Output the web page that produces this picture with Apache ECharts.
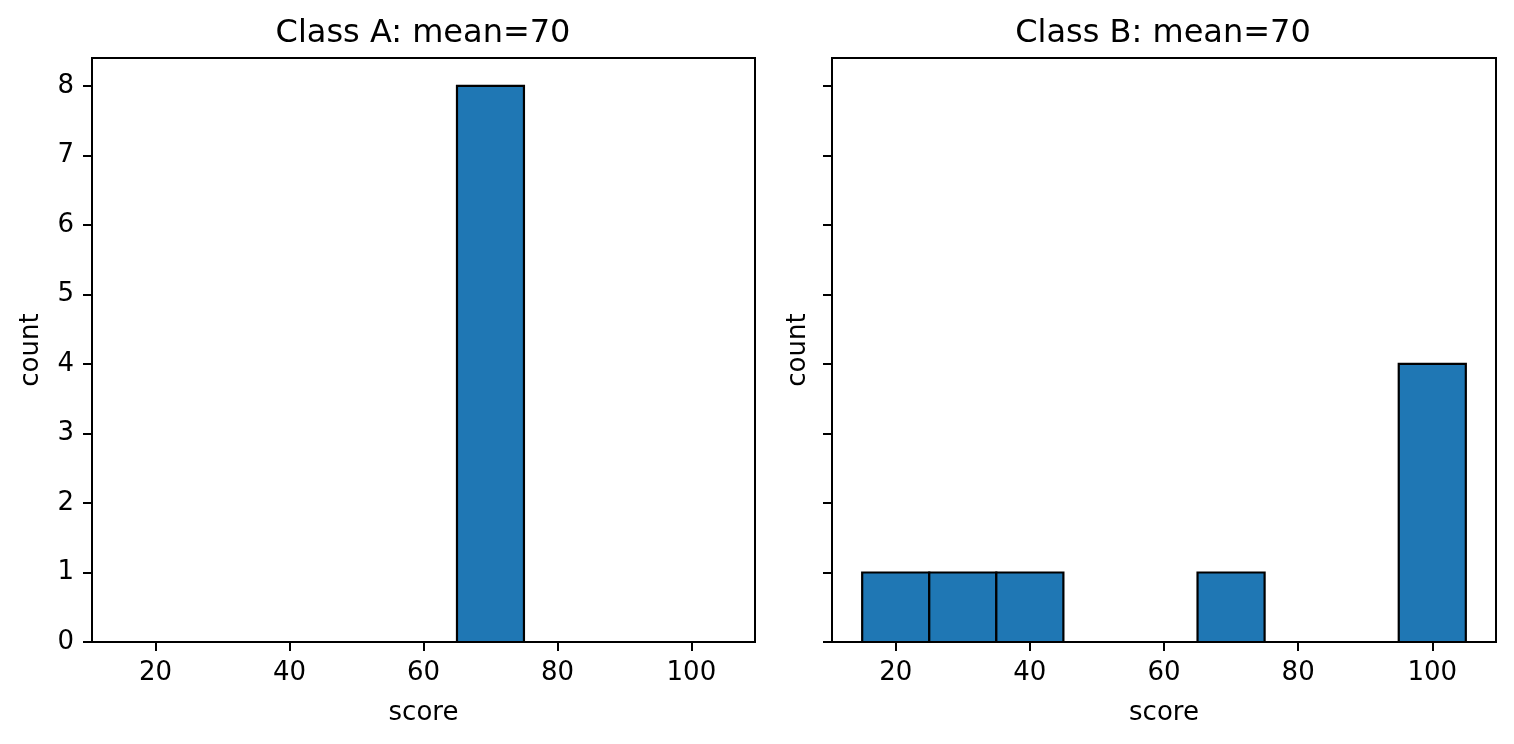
<!DOCTYPE html>
<html>
<head>
<meta charset="utf-8">
<script src="https://cdn.jsdelivr.net/npm/echarts@6/dist/echarts.min.js"></script>
<style>
  html, body { margin: 0; padding: 0; background: #fff; }
  #chart { width: 1514px; height: 744px; }
</style>
</head>
<body>
<div id="chart"></div>
<script type="text/javascript">
// histogram bins (edges) and counts per class
var binEdges = [15, 25, 35, 45, 55, 65, 75, 85, 95, 105];
var countsA = [0, 0, 0, 0, 0, 8, 0, 0, 0];
var countsB = [1, 1, 1, 0, 0, 1, 0, 0, 4];
var titles = ['Class A: mean=70', 'Class B: mean=70'];
var xTicks = [20, 40, 60, 80, 100];
var yTicks = [0, 1, 2, 3, 4, 5, 6, 7, 8];

var font = '"DejaVu Sans", sans-serif';
var barColor = '#1f77b4';

function binData(counts) {
  var out = [];
  for (var i = 0; i < counts.length; i++) {
    out.push([binEdges[i], binEdges[i + 1], counts[i]]);
  }
  return out;
}

function renderBar(params, api) {
  var h = api.value(2);
  if (!h) return null;
  var p0 = api.coord([api.value(0), h]);
  var p1 = api.coord([api.value(1), 0]);
  return {
    type: 'rect',
    shape: { x: p0[0], y: p0[1], width: p1[0] - p0[0], height: p1[1] - p0[1] },
    style: { fill: barColor, stroke: '#000', lineWidth: 2.2 }
  };
}

function xAxisFor(idx) {
  return {
    type: 'value', gridIndex: idx, min: 10.5, max: 109.5,
    name: 'score', nameLocation: 'middle', nameGap: 58,
    nameTextStyle: { fontFamily: font, fontSize: 26, color: '#000' },
    axisLine: { lineStyle: { color: '#000', width: 2 } },
    axisTick: { show: true, length: 9, lineStyle: { color: '#000', width: 2 }, customValues: xTicks },
    axisLabel: { fontFamily: font, fontSize: 26, color: '#000', margin: 18, customValues: xTicks },
    splitLine: { show: false }
  };
}

function yAxisFor(idx, showLabels) {
  return {
    type: 'value', gridIndex: idx, min: 0, max: 8.4,
    name: 'count', nameLocation: 'middle', nameGap: showLabels ? 48 : 21,
    nameTextStyle: { fontFamily: font, fontSize: 26, color: '#000' },
    axisLine: { show: true, lineStyle: { color: '#000', width: 2 } },
    axisTick: { show: true, length: 9, lineStyle: { color: '#000', width: 2 }, customValues: yTicks },
    axisLabel: { show: showLabels, fontFamily: font, fontSize: 26, color: '#000', margin: 18, customValues: yTicks },
    splitLine: { show: false }
  };
}

var myChart = echarts.init(document.getElementById('chart'), null, { renderer: 'canvas' });
var option = {
  animation: false,
  backgroundColor: '#fff',
  title: [
    { text: titles[0], left: 418, top: 13, textAlign: 'center',
      textStyle: { fontFamily: font, fontSize: 32, fontWeight: 'normal', color: '#000' } },
    { text: titles[1], left: 1158, top: 13, textAlign: 'center',
      textStyle: { fontFamily: font, fontSize: 32, fontWeight: 'normal', color: '#000' } }
  ],
  grid: [
    { left: 92, top: 58, width: 663, height: 584, show: true, borderColor: '#000', borderWidth: 2, backgroundColor: 'transparent' },
    { left: 832, top: 58, width: 664, height: 584, show: true, borderColor: '#000', borderWidth: 2, backgroundColor: 'transparent' }
  ],
  xAxis: [xAxisFor(0), xAxisFor(1)],
  yAxis: [yAxisFor(0, true), yAxisFor(1, false)],
  series: [
    { type: 'custom', xAxisIndex: 0, yAxisIndex: 0, renderItem: renderBar,
      encode: { x: [0, 1], y: 2 }, data: binData(countsA) },
    { type: 'custom', xAxisIndex: 1, yAxisIndex: 1, renderItem: renderBar,
      encode: { x: [0, 1], y: 2 }, data: binData(countsB) }
  ]
};
myChart.setOption(option);
</script>
</body>
</html>
